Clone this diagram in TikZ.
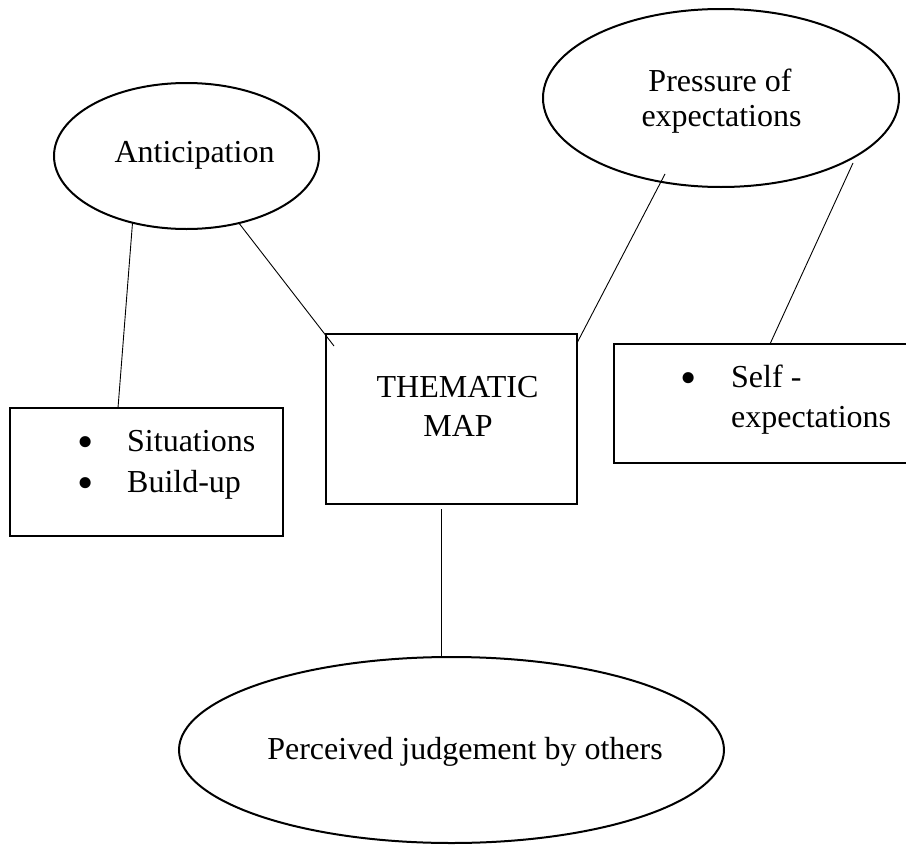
\documentclass[tikz,border=0pt]{standalone}
\usepackage{fontspec}
\setmainfont{Liberation Serif}
\usetikzlibrary{shapes.geometric}
\newcommand{\bigdot}{\raisebox{-6pt}{\scalebox{1.45}{\textbullet}}}
\begin{document}
\begin{tikzpicture}[x=1pt,y=-1pt,
  shapeline/.style={draw, line width=2pt, inner sep=0pt, outer sep=0pt},
  oval/.style={shapeline, ellipse},
  box/.style={shapeline, rectangle, anchor=north west},
  link/.style={line width=0.9pt},
  txt/.style={anchor=base, inner sep=0pt, font=\fontsize{32}{39}\selectfont},
  list/.style={anchor=base, inner sep=0pt, font=\fontsize{32}{41}\selectfont},
]
\useasboundingbox (0,0) rectangle (906,846);
\clip (0,0) rectangle (906,846);
% shapes
\node[oval, minimum width=265pt, minimum height=146pt] (ant) at (186.5,156) {};
\node[oval, minimum width=356pt, minimum height=178pt] (pres) at (721,98) {};
\node[oval, minimum width=545pt, minimum height=186pt] (perc) at (451.5,750) {};
\node[box, minimum width=273pt, minimum height=128pt] (sit) at (10,408) {};
\node[box, minimum width=251pt, minimum height=170pt] (them) at (326,334) {};
\node[box, minimum width=310pt, minimum height=119pt] (self) at (614,344) {};
% texts
\node[txt] (antt) at (194.5,162) {Anticipation};
\node[txt] (prest1) at (720,91) {Pressure of};
\node[txt] (prest2) at (721.5,126) {expectations};
\node[txt] (themt1) at (457.5,397) {THEMATIC};
\node[txt] (themt2) at (458,436) {MAP};
\node[list] (b12) at (86,451) {\begin{tabular}[t]{@{}c@{}}\bigdot\\\bigdot\end{tabular}};
\node[txt, anchor=base west] (s1) at (127,451) {Situations};
\node[txt, anchor=base west] (s2) at (127,492) {Build-up};
\node[txt] (b3) at (689,387) {\bigdot};
\node[txt, anchor=base west] (e1) at (731,387) {Self -};
\node[txt, anchor=base west] (e2) at (731,427) {expectations};
\node[txt] (perct) at (465,759) {Perceived judgement by others};
% connectors
\draw[link] (ant.231.7) -- ([xshift=108pt]sit.north west);
\draw[link] (ant.308.3) -- ([xshift=8pt,yshift=-12pt]them.north west);
\draw[link] ([yshift=-9pt]them.north east) -- ([shift={(-56pt,-76pt)}]pres.center);
\draw[link] ([shift={(132pt,-65pt)}]pres.center) -- ([xshift=156pt]self.north west);
\draw[link] ([xshift=-10.5pt,yshift=-5pt]them.south) -- ([xshift=-10.5pt]perc.north);
\end{tikzpicture}
\end{document}
